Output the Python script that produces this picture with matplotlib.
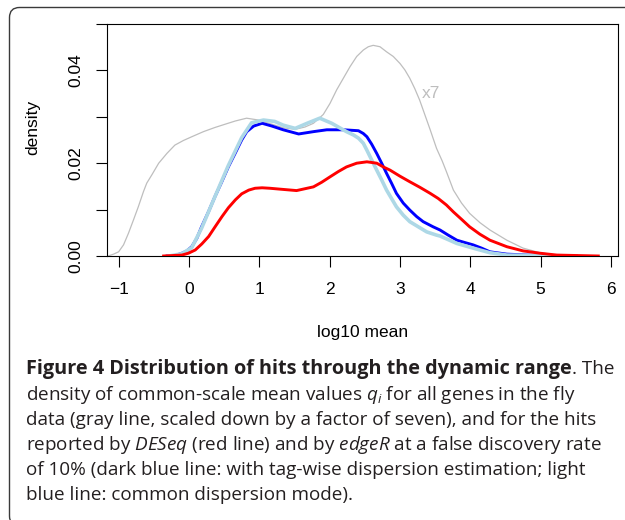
import matplotlib
matplotlib.use("Agg")
import matplotlib.pyplot as plt
from matplotlib.patches import FancyBboxPatch
from matplotlib.transforms import IdentityTransform

# ---------------- data ----------------
gray_x = [-1.15, -1.072, -1.0, -0.93, -0.86, -0.788, -0.72, -0.646, -0.60, -0.527, -0.43, -0.314,
          -0.20, -0.078, 0.04, 0.206, 0.37, 0.514, 0.66, 0.82, 0.99, 1.18, 1.35, 1.51, 1.65,
          1.77, 1.91, 2.006, 2.10, 2.195, 2.29, 2.385, 2.48, 2.55, 2.62, 2.716, 2.81, 2.905,
          3.00, 3.07, 3.14, 3.21, 3.28, 3.355, 3.43, 3.52, 3.60, 3.66, 3.76, 3.876, 3.99, 4.136,
          4.28, 4.52, 4.75, 4.99, 5.23, 5.50]
gray_y = [0.0000, 0.0004, 0.0009, 0.0024, 0.0049, 0.0078, 0.0106, 0.0139, 0.0157, 0.0175, 0.0200, 0.0221,
          0.0239, 0.0249, 0.0257, 0.0268, 0.0277, 0.0284, 0.0291, 0.0297, 0.0293, 0.0284, 0.0276, 0.0273, 0.0278,
          0.0286, 0.0305, 0.0329, 0.0358, 0.0383, 0.0408, 0.0430, 0.0444, 0.0451, 0.0454, 0.0451, 0.0440, 0.0430,
          0.0415, 0.0401, 0.0383, 0.0361, 0.0336, 0.0304, 0.0272, 0.0232, 0.0205, 0.0182, 0.0142, 0.0114, 0.0092, 0.0072,
          0.0056, 0.0034, 0.0017, 0.0007, 0.0002, 0.0000]

blue_x = [-0.31, -0.196, -0.10, -0.03, 0.04, 0.112, 0.18, 0.277, 0.37, 0.467, 0.56, 0.656, 0.75,
          0.822, 0.92, 1.04, 1.18, 1.34, 1.56, 1.77, 1.96, 2.20, 2.41, 2.479, 2.53, 2.598, 2.67,
          2.74, 2.81, 2.88, 2.95, 3.047, 3.14, 3.237, 3.33, 3.47, 3.57, 3.686, 3.81, 3.923, 4.04,
          4.16, 4.28, 4.52, 4.99, 5.51]
blue_y = [0.0000, 0.0001, 0.0006, 0.0011, 0.0020, 0.0038, 0.0063, 0.0095, 0.0128, 0.0160, 0.0192, 0.0221, 0.0250,
          0.0268, 0.0280, 0.0286, 0.0280, 0.0272, 0.0263, 0.0268, 0.0272, 0.0272, 0.0270, 0.0264, 0.0257, 0.0241, 0.0221,
          0.0200, 0.0178, 0.0157, 0.0135, 0.0114, 0.0099, 0.0085, 0.0074, 0.0063, 0.0056, 0.0045, 0.0034, 0.0029, 0.0024,
          0.0017, 0.0009, 0.0004, 0.0001, 0.0000]

lblue_x = [-0.28, -0.10, 0.04, 0.18, 0.37, 0.56, 0.75, 0.89, 1.06, 1.22, 1.34, 1.51, 1.68,
           1.86, 2.03, 2.24, 2.337, 2.41, 2.479, 2.53, 2.598, 2.67, 2.74, 2.81, 2.88, 2.95,
           3.047, 3.14, 3.26, 3.38, 3.52, 3.57, 3.81, 4.04, 4.28, 4.52, 5.50]
lblue_y = [0.0000, 0.0005, 0.0018, 0.0060, 0.0128, 0.0195, 0.0255, 0.0287, 0.0293, 0.0290, 0.0282, 0.0275, 0.0286,
           0.0297, 0.0286, 0.0268, 0.0261, 0.0254, 0.0243, 0.0228, 0.0207, 0.0185, 0.0164, 0.0142, 0.0124, 0.0106,
           0.0088, 0.0074, 0.0063, 0.0052, 0.0045, 0.0043, 0.0027, 0.0017, 0.0007, 0.0002, 0.0000]

red_x = [-0.36, -0.10, -0.007, 0.09, 0.183, 0.28, 0.372, 0.47, 0.561, 0.66, 0.75, 0.85, 0.94,
         1.04, 1.15, 1.30, 1.53, 1.77, 1.888, 2.01, 2.124, 2.24, 2.385, 2.53, 2.67, 2.763,
         2.86, 3.00, 3.14, 3.284, 3.43, 3.544, 3.66, 3.76, 3.876, 3.99, 4.136, 4.28, 4.40,
         4.52, 4.75, 4.99, 5.23, 5.82]
red_y = [0.0000, 0.0002, 0.0006, 0.0013, 0.0026, 0.0042, 0.0063, 0.0085, 0.0104, 0.0121, 0.0134, 0.0142, 0.0146,
         0.0147, 0.0146, 0.0144, 0.0141, 0.0149, 0.0159, 0.0171, 0.0182, 0.0192, 0.0200, 0.0203, 0.0200, 0.0192,
         0.0185, 0.0172, 0.0160, 0.0148, 0.0135, 0.0124, 0.0110, 0.0095, 0.0079, 0.0063, 0.0047, 0.0034, 0.0027,
         0.0020, 0.0011, 0.0006, 0.0002, 0.0000]

x_ticks = [-1, 0, 1, 2, 3, 4, 5, 6]
x_tick_labels = ["\u22121", "0", "1", "2", "3", "4", "5", "6"]
y_ticks = [0.00, 0.01, 0.02, 0.03, 0.04, 0.05]
y_tick_labels = ["0.00", "", "0.02", "", "0.04", ""]

x_label = "log10 mean"
y_label = "density"
scale_note = "x7"

caption_bold = "Figure 4 Distribution of hits through the dynamic range"
caption_first_rest = ". The"
caption_lines = [
    r"density of common-scale mean values $q_i$ for all genes in the fly",
    r"data (gray line, scaled down by a factor of seven), and for the hits",
    r"reported by $\mathit{DESeq}$ (red line) and by $\mathit{edgeR}$ at a false discovery rate",
    r"of 10% (dark blue line: with tag-wise dispersion estimation; light",
    r"blue line: common dispersion mode).",
]

# ---------------- figure ----------------
W, H = 625, 520
plt.rcParams["mathtext.fontset"] = "custom"
plt.rcParams["mathtext.rm"] = "Open Sans"
plt.rcParams["mathtext.it"] = "Open Sans:italic"
plt.rcParams["mathtext.bf"] = "Open Sans:bold"

fig = plt.figure(figsize=(W / 100, H / 100), dpi=100)
fig.patch.set_facecolor("white")

# rounded frame around the figure
frame = FancyBboxPatch((9.5, -6), 700, 512.5 + 6, boxstyle="round,pad=0,rounding_size=10",
                       transform=IdentityTransform(), facecolor="none", edgecolor="#3a3a3a", lw=1.0)
fig.add_artist(frame)

ax = fig.add_axes([107 / W, 1 - 256 / H, (618 - 107) / W, (256 - 24) / H])
ax.plot(gray_x, gray_y, color="#bebebe", lw=0.9, zorder=2, solid_joinstyle="round")
ax.plot(blue_x, blue_y, color="#0000ff", lw=2.1, zorder=3, solid_joinstyle="round")
ax.plot(lblue_x, lblue_y, color="#add8e6", lw=2.6, zorder=4, solid_joinstyle="round")
ax.plot(red_x, red_y, color="#ff0000", lw=2.1, zorder=5, solid_joinstyle="round")
ax.text(3.44, 0.0351, scale_note, color="#bebebe", fontsize=12.5, family="Liberation Sans",
        ha="center", va="center")

ax.set_xlim(-1.165, 6.10)
ax.set_ylim(0, 0.05)
for s in ax.spines.values():
    s.set_linewidth(0.8)
    s.set_color("black")
ax.set_xticks(x_ticks)
ax.set_xticklabels(x_tick_labels, family="Liberation Sans", fontsize=12.5)
ax.set_yticks(y_ticks)
ax.set_yticklabels(y_tick_labels, family="Liberation Sans", fontsize=12.5)
ax.tick_params(axis="both", length=8, width=0.8, color="black")
ax.tick_params(axis="x", pad=11)
ax.tick_params(axis="y", pad=9)
for lab in ax.get_yticklabels():
    lab.set_rotation(90)
    lab.set_va("center")
    lab.set_ha("right")

fig.text(33 / W, 1 - 127 / H, y_label, rotation=90, ha="center", va="center",
         family="Liberation Sans", fontsize=12.5)
fig.text(362.5 / W, 1 - 337 / H, x_label, ha="center", va="baseline",
         family="Liberation Sans", fontsize=12.5)

# caption: regular size fitted to the third line's measured width,
# bold heading fitted so that the first line spans its measured width
renderer = fig.canvas.get_renderer()
cap_color = "#231f20"
x0 = 26
base = 14.0
probe = fig.text(0, 0, caption_lines[1], fontsize=base, family="Open Sans")
reg_size = base * (601 - x0) / probe.get_window_extent(renderer).width
probe.remove()

probe = fig.text(0, 0, caption_first_rest, fontsize=reg_size, family="Open Sans")
w_rest = probe.get_window_extent(renderer).width
probe.remove()
probe = fig.text(0, 0, caption_bold, fontsize=base, family="Open Sans", fontweight="bold")
bold_size = base * (618 - x0 - w_rest) / probe.get_window_extent(renderer).width
probe.remove()

yb0 = 374
tb = fig.text(x0 / W, 1 - yb0 / H, caption_bold, fontsize=bold_size, family="Open Sans",
              fontweight="bold", color=cap_color, ha="left", va="baseline")
wb = tb.get_window_extent(renderer).width
fig.text((x0 + wb + 0.5) / W, 1 - yb0 / H, caption_first_rest, fontsize=reg_size, family="Open Sans",
         color=cap_color, ha="left", va="baseline")

baselines = [400, 425, 450, 475, 500]
for line, yb in zip(caption_lines, baselines):
    fig.text(x0 / W, 1 - yb / H, line, fontsize=reg_size, family="Open Sans",
             color=cap_color, ha="left", va="baseline")

fig.savefig("out.png", dpi=100)
